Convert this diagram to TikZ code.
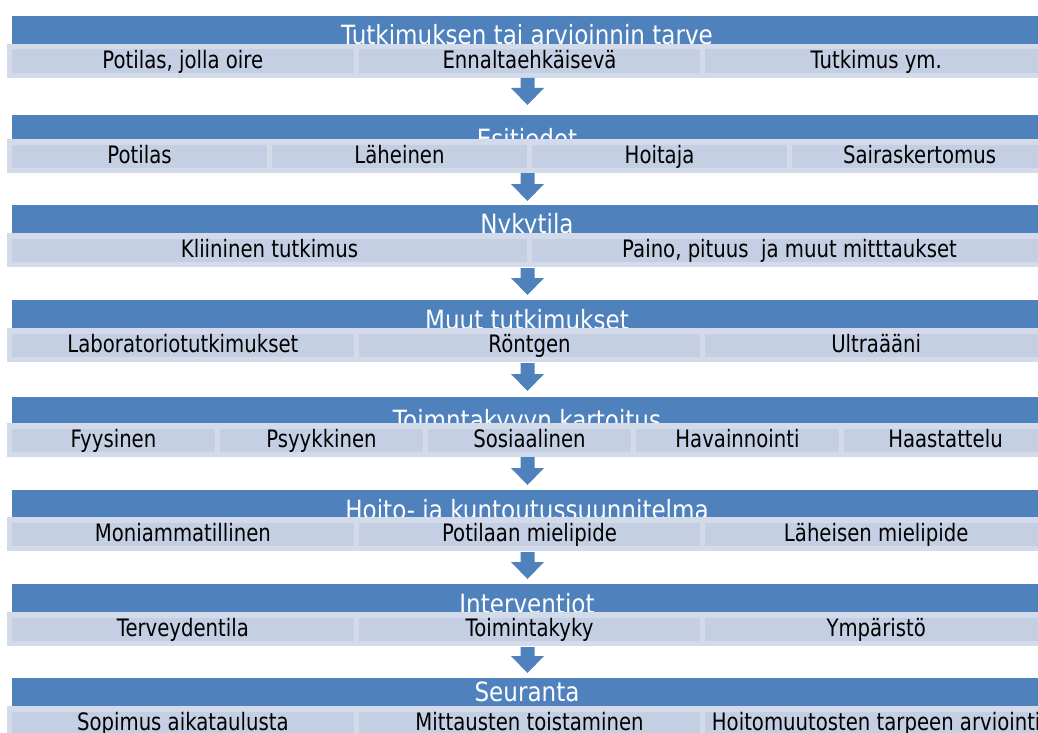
\documentclass[tikz,border=0pt]{standalone}
\usepackage{fontspec}
\setmainfont{DejaVu Sans}[FakeStretch=0.82]
\newfontfamily\titlefont{DejaVu Sans}[FakeStretch=0.87]
\definecolor{barblue}{HTML}{4F81BD}
\definecolor{cellfill}{HTML}{C5CFE3}
\definecolor{cellrim}{HTML}{D3DAE9}
\tikzset{
  titletext/.style={text=white, font=\titlefont\fontsize{26.5}{28}\selectfont, anchor=base, inner sep=0pt},
  celltext/.style={text=black, font=\fontsize{24}{26}\selectfont, anchor=base, inner sep=0pt},
  barfill/.style={fill=barblue, draw=none},
  rimfill/.style={fill=cellrim, draw=none},
  cellbox/.style={fill=cellfill, draw=none},
  blockarrow/.style={fill=barblue, draw=none},
}
% #1 name, #2 bar top, #3 sub-row top, #4 title baseline, #5 title, #6 number of cells, #7 cell labels
\newcommand\stagerow[7]{%
  \fill[barfill] (12,#2) rectangle (1045,#3);
  \node[titletext] (#1t) at (527,#4) {#5};
  \fill[rimfill] (7,#3) rectangle (1047,#3+34);
  \pgfmathsetmacro\cw{1040/#6}
  \foreach \lab [count=\i] in {#7} {
    \fill[cellbox] ({7+(\i-1)*\cw+5},#3+5.5) rectangle ({7+\i*\cw},#3+29);
    \node[celltext] (#1c\i) at ({7+(\i-0.5)*\cw+2.5},#3+24.5) {\lab};
  }
}
% #1 name, #2 top, #3 tip
\newcommand\flowarrow[3]{%
  \coordinate (#1s) at (527.5,#2);
  \coordinate (#1e) at (527.5,#3);
  \fill[blockarrow] (#1s) ++(-7,0) -- ++(14,0) |- ($(#1e)+(16.5,-17)$) -- (#1e) -- ++(-16.5,-17) -| ($(#1s)+(-7,0)$) -- cycle;
}
\usetikzlibrary{calc}
\begin{document}
\begin{tikzpicture}[x=1pt,y=-1pt]
\useasboundingbox (0,0) rectangle (1038,733);
\clip (0,0) rectangle (1038,733);
\stagerow{s1}{16}{44}{45}{Tutkimuksen tai arvioinnin tarve}{3}{{Potilas, jolla oire},Ennaltaehkäisevä,{Tutkimus ym.}}
\stagerow{s2}{115}{139}{149}{Esitiedot}{4}{Potilas,Läheinen,Hoitaja,Sairaskertomus}
\stagerow{s3}{205}{233}{233}{Nykytila}{2}{{Kliininen tutkimus},{Paino, pituus\ \ ja muut mitttaukset}}
\stagerow{s4}{300}{328}{329}{Muut tutkimukset}{3}{Laboratoriotutkimukset,Röntgen,Ultraääni}
\stagerow{s5}{397}{423}{429}{Toimntakyvyn kartoitus}{5}{Fyysinen,Psyykkinen,Sosiaalinen,Havainnointi,Haastattelu}
\stagerow{s6}{490}{517}{519}{Hoito- ja kuntoutussuunnitelma}{3}{Moniammatillinen,{Potilaan mielipide},{Läheisen mielipide}}
\stagerow{s7}{584}{612}{613}{Interventiot}{3}{Terveydentila,Toimintakyky,Ympäristö}
\stagerow{s8}{678}{706}{701}{Seuranta}{3}{{Sopimus aikataulusta},{Mittausten toistaminen},{Hoitomuutosten tarpeen arviointi}}
\flowarrow{a1}{78}{105}
\flowarrow{a2}{173}{201}
\flowarrow{a3}{268}{295}
\flowarrow{a4}{363}{391}
\flowarrow{a5}{457}{485}
\flowarrow{a6}{552}{579}
\flowarrow{a7}{647}{673}
\end{tikzpicture}
\end{document}
